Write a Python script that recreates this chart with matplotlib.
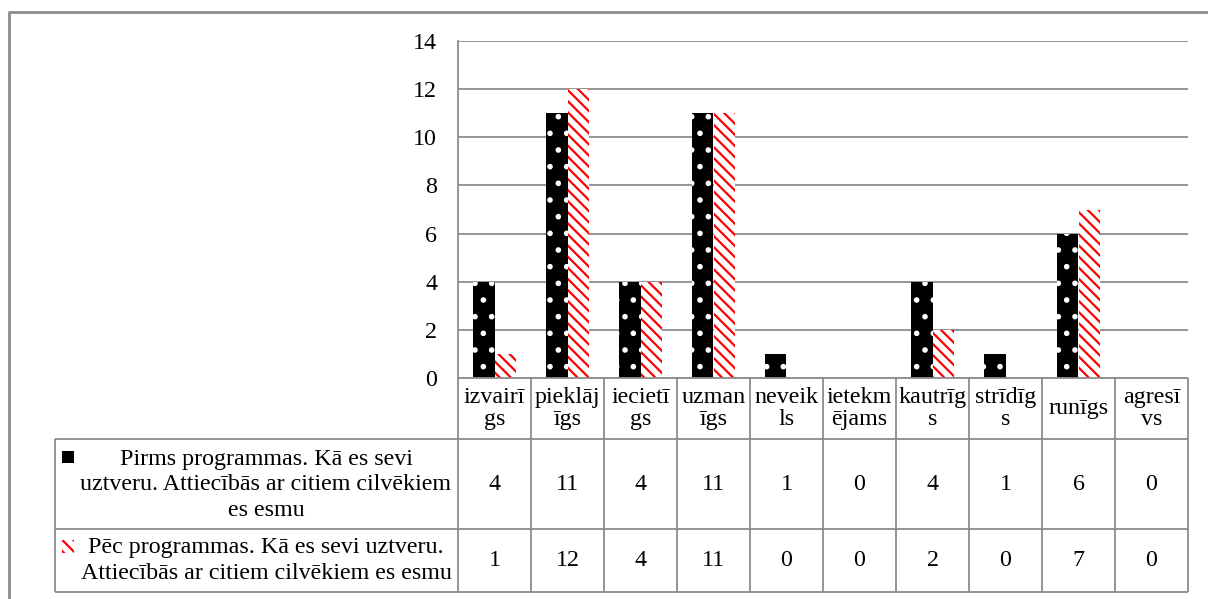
import matplotlib.pyplot as plt
import numpy as np
from matplotlib.lines import Line2D
from matplotlib.patches import Rectangle

plt.rcParams['font.family'] = ['Liberation Serif', 'DejaVu Serif']
plt.rcParams['hatch.linewidth'] = 1.6

# data
labels = ['izvairī\ngs', 'pieklāj\nīgs', 'iecietī\ngs', 'uzman\nīgs', 'neveik\nls',
          'ietekm\nējams', 'kautrīg\ns', 'strīdīg\ns', 'runīgs', 'agresī\nvs']
before = [4, 11, 4, 11, 1, 0, 4, 1, 6, 0]
after = [1, 12, 4, 11, 0, 0, 2, 0, 7, 0]
before_name = 'Pirms programmas. Kā es sevi\nuztveru. Attiecībās ar citiem cilvēkiem\nes esmu'
after_name = 'Pēc programmas. Kā es sevi uztveru.\nAttiecībās ar citiem cilvēkiem es esmu'
yticks = [0, 2, 4, 6, 8, 10, 12, 14]

W, H = 1208, 599
fs = 17.3
grey = '#8c8c8c'
dot_hatch = '.'
stripe_hatch = '\\\\\\'

fig = plt.figure(figsize=(W / 100, H / 100), dpi=100)

def fx(x):
    return x / W

def fy(y):
    return 1 - y / H

def line(x0, y0, x1, y1, lw=1.3):
    fig.add_artist(Line2D([fx(x0), fx(x1)], [fy(y0), fy(y1)], color=grey, lw=lw,
                          transform=fig.transFigure, solid_capstyle='butt'))

# plot area
left, right, top, bottom = 458, 1188, 41, 378
ax = fig.add_axes([fx(left), fy(bottom), fx(right - left), (bottom - top) / H])
x = np.arange(len(labels))
bw = 0.29

ax.bar(x - bw / 2, before, bw, color='black', edgecolor='white', hatch=dot_hatch, lw=0, zorder=3)
ax.bar(x + bw / 2, after, bw, color='white', edgecolor='red', hatch=stripe_hatch, lw=0, zorder=3)

ax.set_xlim(-0.5, len(labels) - 0.5)
ax.set_ylim(0, 14)
ax.set_yticks(yticks)
ax.set_yticklabels([str(v) for v in yticks], fontsize=fs)
ax.tick_params(axis='y', length=0, pad=15)
ax.set_xticks([])
ax.yaxis.grid(True, color=grey, lw=1.3, zorder=0)
for s in ['top', 'right', 'bottom']:
    ax.spines[s].set_visible(False)
ax.spines['left'].set_color(grey)
ax.spines['left'].set_linewidth(1.3)
ax.set_axisbelow(True)

# outer frame
line(9, 12, 9, 600, lw=2)
line(8, 12, 1210, 12, lw=2)

# data table
r0, r1, r2, r3 = 378, 439, 529, 592
leg_left = 55
colw = (right - left) / len(labels)
line(left, r0, right, r0)
for yy in (r1, r2, r3):
    line(leg_left, yy, right, yy)
line(leg_left, r1, leg_left, r3)
for k in range(len(labels) + 1):
    xx = left + k * colw
    line(xx, r0, xx, r3)

for k, lab in enumerate(labels):
    cx = left + (k + 0.5) * colw
    fig.text(fx(cx), fy((r0 + r1) / 2), lab, ha='center', va='center', fontsize=fs, linespacing=1.1)
    fig.text(fx(cx), fy((r1 + r2) / 2), str(before[k]), ha='center', va='center', fontsize=fs)
    fig.text(fx(cx), fy((r2 + r3) / 2), str(after[k]), ha='center', va='center', fontsize=fs)

fig.text(fx(266), fy((r1 + r2) / 2 + 1), before_name, ha='center', va='center', fontsize=fs, linespacing=1.3)
fig.text(fx(266), fy((r2 + r3) / 2), after_name, ha='center', va='center', fontsize=fs, linespacing=1.3)

# legend keys
fig.add_artist(Rectangle((fx(62), fy(463)), 12 / W, 12 / H, facecolor='black', lw=0,
                         transform=fig.transFigure))
fig.add_artist(Rectangle((fx(62), fy(553)), 12 / W, 13 / H, facecolor='white', edgecolor='red',
                         hatch=stripe_hatch, lw=0, transform=fig.transFigure))

fig.savefig('out.png', dpi=100)
